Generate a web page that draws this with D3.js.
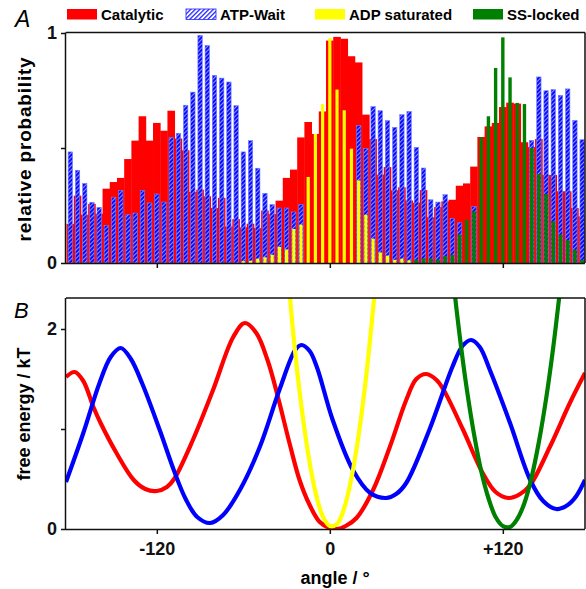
<!DOCTYPE html>
<html><head><meta charset="utf-8">
<script src="https://cdn.jsdelivr.net/npm/d3@7"></script>
<style>body{margin:0;background:#fff} svg{display:block} text{font-family:"Liberation Sans",Arial,sans-serif}</style>
</head><body><svg id="c" width="586" height="589"></svg>
<script>
// ---- data ----
const binAngles = d3.range(-180, 180, 5); // histogram bin centres (deg)
const catalytic = [0.170,0.293,0.210,0.257,0.214,0.323,0.352,0.370,0.452,0.532,0.638,0.532,0.609,0.575,0.662,0.541,0.490,0.309,
  0.319,0.290,0.239,0.283,0.159,0.191,0.155,0.171,0.152,0.228,0.213,0.271,0.370,0.406,0.546,0.613,0.561,0.659,
  0.967,0.983,0.975,0.899,0.872,0.645,0.539,0.384,0.417,0.316,0.329,0.272,0.262,0.317,0.199,0.243,0.268,0.275,
  0.336,0.346,0.419,0.548,0.594,0.609,0.678,0.697,0.693,0.525,0.504,0.539,0.383,0.383,0.312,0.312,0.239,0.203];
const atpWait = [0.483,0.403,0.346,0.264,0.242,0.164,0.286,0.316,0.210,0.217,0.316,0.261,0.300,0.265,0.546,0.564,0.686,0.743,
  0.990,0.946,0.816,0.804,0.787,0.684,0.483,0.532,0.412,0.303,0.254,0.239,0.239,0.222,0.254,0,0,0,
  0,0,0,0,0.597,0.497,0.680,0.662,0.619,0.590,0.645,0.659,0.503,0.413,0.275,0.265,0.297,0.193,
  0.175,0,0.246,0,0,0,0,0,0,0,0.533,0.809,0.749,0.754,0.729,0.757,0.620,0.536];
const adpSaturated = [0,0,0,0,0,0,0,0,0,0,0,0,0,0,0,0,0,0,
  0,0,0,0,0,0,0.008,0.010,0.019,0.025,0.036,0.070,0.059,0.148,0.167,0.374,0.561,0.691,
  0.978,0.754,0.664,0.497,0.359,0.210,0.106,0.046,0.032,0.014,0.019,0.012,0,0,0,0,0,0,
  0,0,0,0,0,0,0,0,0,0,0,0,0,0,0,0,0,0];
const ssLocked = [0,0,0,0,0,0,0,0,0,0,0,0,0,0,0,0,0,0,
  0,0,0,0,0,0,0,0,0,0,0,0,0,0,0,0,0,0,
  0,0,0,0,0,0,0,0,0,0,0,0,0.015,0.020,0.020,0.015,0.030,0.035,
  0.123,0.188,0.225,0.546,0.638,0.848,0.981,0.807,0.696,0.691,0.500,0.387,0.300,0.181,0.123,0.099,0.058,0.014];

// panel B free-energy profiles (angle in deg, energy in kT)
const redAngle  = [-183,-177,-171,-164,-159,-148,-136,-128,-120,-113,-108,-95,-81,-67,-59,-51,-43,-36,-28,-21,-14,-7,0,5,11,18.5,30,41.6,53,60,67,74,79,92.5,106,115,124,132,139,152.6,166.5,177];
const redEnergy = [1.52,1.57,1.48,1.22,1.06,0.76,0.49,0.40,0.38,0.42,0.50,0.89,1.39,1.92,2.06,1.96,1.68,1.32,0.86,0.49,0.24,0.07,0.01,0.0,0.03,0.11,0.39,0.82,1.29,1.50,1.55,1.49,1.39,0.99,0.56,0.37,0.31,0.35,0.44,0.82,1.26,1.56];
const blueAngle  = [-183,-171,-160,-152,-145,-138,-130,-118,-108,-100,-92,-83,-74,-62,-48.6,-35,-24,-19.7,-14,-9,2,16,28,39,46,53,69,85,92,98,104,111,125,139,148,157,165,171,177];
const blueEnergy = [0.47,0.96,1.45,1.72,1.81,1.70,1.45,0.99,0.58,0.30,0.12,0.06,0.14,0.40,0.82,1.39,1.79,1.84,1.78,1.62,1.09,0.59,0.36,0.31,0.35,0.46,0.99,1.62,1.83,1.89,1.82,1.59,1.06,0.49,0.28,0.20,0.24,0.33,0.49];
const yellowAngle  = [-33,-30,-25,-20,-15,-10,-5,0,5,10,15,20,25,30,33];
const yellowEnergy = [3.0,2.68,1.90,1.26,0.75,0.37,0.13,0.03,0.05,0.21,0.51,0.94,1.50,2.20,2.68];
const greenAngle  = [82,85,90,95,100,105,110,115,120,125,130,135,140,145,150,155,160,163];
const greenEnergy = [3.0,2.57,1.94,1.40,0.95,0.58,0.31,0.12,0.03,0.02,0.10,0.26,0.52,0.87,1.30,1.82,2.43,2.8];

const legendLabels = ["Catalytic","ATP-Wait","ADP saturated","SS-locked"];
const xTickValues = [-120, 0, 120];
const xTickLabels = ["-120","0","+120"];
const yTicksA = [0, 0.5, 1], yTickLabelsA = ["0","","1"];
const yTicksB = [0, 1, 2],   yTickLabelsB = ["0","","2"];

// ---- drawing ----
const svg = d3.select("#c");
const L = 66, R = 585;
const x = d3.scaleLinear().domain([-183, 177]).range([L, R]);
const yA = d3.scaleLinear().domain([0, 1]).range([263, 33]);
const yB = d3.scaleLinear().domain([0, 2.31]).range([529, 298]);
const binW = x(5) - x(0);

const defs = svg.append("defs");
const hp = defs.append("pattern").attr("id","hatchBar").attr("patternUnits","userSpaceOnUse")
  .attr("width",3).attr("height",3).attr("patternTransform","rotate(45)");
hp.append("rect").attr("width",3).attr("height",3).attr("fill","#e8ecff");
hp.append("rect").attr("width",2.4).attr("height",3).attr("fill","#0a0aff");
const hl = defs.append("pattern").attr("id","hatchLeg").attr("patternUnits","userSpaceOnUse")
  .attr("width",3.2).attr("height",3.2).attr("patternTransform","rotate(45)");
hl.append("rect").attr("width",3.2).attr("height",3.2).attr("fill","#fff");
hl.append("rect").attr("width",1.3).attr("height",3.2).attr("fill","#2323ff");
defs.append("clipPath").attr("id","clipA").append("rect").attr("x",L).attr("y",33).attr("width",R-L).attr("height",230);
defs.append("clipPath").attr("id","clipB").append("rect").attr("x",L).attr("y",298).attr("width",R-L).attr("height",231);

// Legend
const legX = [67, 186, 315, 473];
const legFill = ["#ff0000","url(#hatchLeg)","#ffff00","#008000"];
legendLabels.forEach((t,i)=>{
  svg.append("rect").attr("x",legX[i]).attr("y",9).attr("width",30).attr("height",10.5)
    .attr("fill",legFill[i]).attr("stroke", i===1?"#2323ff":"none").attr("stroke-width",0.8);
  svg.append("text").attr("x",legX[i]+34).attr("y",19.5).attr("font-size",15).attr("font-weight","bold").text(t);
});

// Panel A bars
const gA = svg.append("g").attr("clip-path","url(#clipA)");
const rows = binAngles.map((a,i)=>({a, c:catalytic[i], w:atpWait[i], y:adpSaturated[i], s:ssLocked[i]}));
gA.selectAll("rect.cat").data(rows).join("rect").attr("class","cat")
  .attr("x",d=>x(d.a-2.5)-0.2).attr("width",binW+0.4)
  .attr("y",d=>yA(d.c)).attr("height",d=>yA(0)-yA(d.c)).attr("fill","#ff0000");
gA.selectAll("rect.atp").data(rows.filter(d=>d.w>0)).join("rect").attr("class","atp")
  .attr("x",d=>x(d.a)-2.2).attr("width",4.4)
  .attr("y",d=>yA(d.w)).attr("height",d=>yA(0)-yA(d.w)).attr("fill","url(#hatchBar)")
  .attr("stroke","#6f80ff").attr("stroke-width",0.6);
gA.selectAll("rect.adp").data(rows.filter(d=>d.y>0)).join("rect").attr("class","adp")
  .attr("x",d=>x(d.a)-1.6).attr("width",3.2)
  .attr("y",d=>yA(d.y)).attr("height",d=>yA(0)-yA(d.y)).attr("fill","#ffff00");
gA.selectAll("rect.ss").data(rows.filter(d=>d.s>0)).join("rect").attr("class","ss")
  .attr("x",d=>x(d.a)-1.7).attr("width",3.4)
  .attr("y",d=>yA(d.s)).attr("height",d=>yA(0)-yA(d.s)).attr("fill","#008000");

// Panel A frame & axes
const frameStroke = "#111";
svg.append("line").attr("x1",L).attr("x2",R).attr("y1",32.5).attr("y2",32.5).attr("stroke",frameStroke).attr("stroke-width",1.5);
svg.append("line").attr("x1",R).attr("x2",R).attr("y1",32.5).attr("y2",263).attr("stroke",frameStroke).attr("stroke-width",1.5);
const axA = svg.append("g").attr("transform","translate(0,263)")
  .call(d3.axisBottom(x).tickValues(xTickValues).tickFormat("").tickSize(5).tickSizeOuter(0));
const ayA = svg.append("g").attr("transform",`translate(${L},0)`)
  .call(d3.axisLeft(yA).tickValues(yTicksA).tickFormat((d,i)=>yTickLabelsA[i]).tickSize(5).tickSizeOuter(0).tickPadding(4));

// Panel B
const gB = svg.append("g").attr("clip-path","url(#clipB)");
const line = d3.line().x(d=>x(d[0])).y(d=>yB(d[1])).curve(d3.curveCatmullRom.alpha(0.5));
const curves = [
  [redAngle, redEnergy, "#ff0000"],
  [blueAngle, blueEnergy, "#0000ff"],
  [yellowAngle, yellowEnergy, "#ffff00"],
  [greenAngle, greenEnergy, "#008000"]
];
curves.forEach(([as, es, col])=>{
  gB.append("path").datum(as.map((a,i)=>[a,es[i]])).attr("d",line)
    .attr("fill","none").attr("stroke",col).attr("stroke-width",4.2).attr("stroke-linejoin","round");
});
svg.append("line").attr("x1",L).attr("x2",R).attr("y1",298).attr("y2",298).attr("stroke",frameStroke).attr("stroke-width",1.5);
svg.append("line").attr("x1",R).attr("x2",R).attr("y1",298).attr("y2",529).attr("stroke",frameStroke).attr("stroke-width",1.5);
const axB = svg.append("g").attr("transform","translate(0,529)")
  .call(d3.axisBottom(x).tickValues(xTickValues).tickFormat((d,i)=>xTickLabels[i]).tickSize(5).tickSizeOuter(0).tickPadding(8));
const ayB = svg.append("g").attr("transform",`translate(${L},0)`)
  .call(d3.axisLeft(yB).tickValues(yTicksB).tickFormat((d,i)=>yTickLabelsB[i]).tickSize(5).tickSizeOuter(0).tickPadding(4));

[axA, ayA, axB, ayB].forEach(g=>{
  g.select(".domain").attr("stroke",frameStroke).attr("stroke-width",1.5);
  g.selectAll(".tick line").attr("stroke",frameStroke).attr("stroke-width",1.5);
  g.selectAll(".tick text").attr("font-family","Liberation Sans, Arial, sans-serif")
    .attr("font-size",18).attr("font-weight","bold").attr("fill","#111");
});
axA.select(".domain").attr("d",`M${L},0.5H${R}`);
axB.select(".domain").attr("d",`M${L},0.5H${R}`);
ayA.select(".domain").attr("d",`M-0.5,${32.5}V${263}`);
ayB.select(".domain").attr("d",`M-0.5,${298}V${529}`);

// titles
svg.append("text").attr("x",15).attr("y",27).attr("font-size",23).attr("font-style","italic").text("A");
svg.append("text").attr("x",14).attr("y",318).attr("font-size",22).attr("font-style","italic").text("B");
svg.append("text").attr("transform","translate(31,149) rotate(-90)").attr("text-anchor","middle")
  .attr("font-size",19).attr("font-weight","bold").attr("letter-spacing",0.8).text("relative probability");
svg.append("text").attr("transform","translate(30,414) rotate(-90)").attr("text-anchor","middle")
  .attr("font-size",18).attr("font-weight","bold").text("free energy / kT");
svg.append("text").attr("x",335).attr("y",584).attr("text-anchor","middle")
  .attr("font-size",18).attr("font-weight","bold").text("angle / °");
</script></body></html>
